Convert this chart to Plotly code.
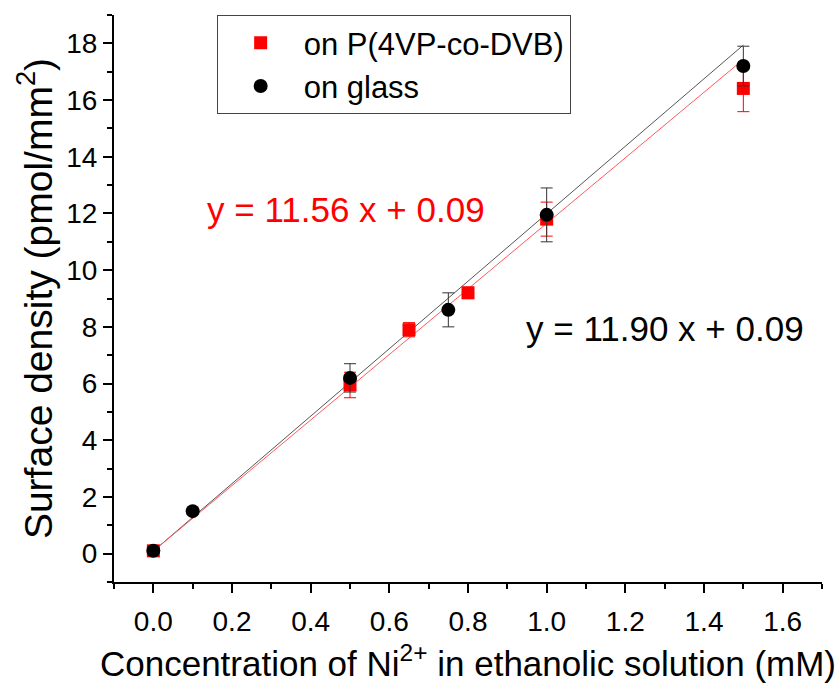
import numpy as np
import plotly.graph_objects as go

# ---- data ----
x_p4vp = [0.0, 0.5, 0.65, 0.8, 1.0, 1.5]
y_p4vp = [0.1, 5.95, 7.9, 9.2, 11.8, 16.41]
e_p4vp = [0.1, 0.45, 0.25, 0.2, 0.6, 0.82]

x_glass = [0.0, 0.1, 0.5, 0.75, 1.0, 1.5]
y_glass = [0.1, 1.5, 6.2, 8.6, 11.95, 17.2]
e_glass = [0.1, 0.1, 0.5, 0.6, 0.95, 0.7]

fit_p4vp = (11.56, 0.09)
fit_glass = (11.90, 0.09)
fit_x = [0.0, 1.5]

x_ticks = [0.0, 0.2, 0.4, 0.6, 0.8, 1.0, 1.2, 1.4, 1.6]
y_ticks = [0, 2, 4, 6, 8, 10, 12, 14, 16, 18]

FONT = "Arial, Liberation Sans, sans-serif"

fx = np.array(fit_x)
fig = go.Figure()
fig.add_trace(go.Scatter(x=fx, y=fit_glass[0] * fx + fit_glass[1], mode="lines",
                         line=dict(color="#555555", width=1), showlegend=False, hoverinfo="skip"))
fig.add_trace(go.Scatter(x=fx, y=fit_p4vp[0] * fx + fit_p4vp[1], mode="lines",
                         line=dict(color="#ff5a5a", width=1), showlegend=False, hoverinfo="skip"))
fig.add_trace(go.Scatter(x=x_p4vp, y=y_p4vp, mode="markers", name="on P(4VP-co-DVB)",
                         marker=dict(symbol="square", size=13, color="#ff0000"),
                         error_y=dict(type="data", array=e_p4vp, color="#ff0000", thickness=1, width=6)))
fig.add_trace(go.Scatter(x=x_glass, y=y_glass, mode="markers", name="on glass",
                         marker=dict(symbol="circle", size=14, color="#000000"),
                         error_y=dict(type="data", array=e_glass, color="#333333", thickness=1, width=6)))

fig.add_annotation(x=0.49, y=12.15, xref="x", yref="y", text="y = 11.56 x + 0.09",
                   showarrow=False, font=dict(family=FONT, size=35, color="#ff0000"))
fig.add_annotation(x=1.30, y=7.95, xref="x", yref="y", text="y = 11.90 x + 0.09",
                   showarrow=False, font=dict(family=FONT, size=35, color="#000000"))

axis_common = dict(showline=True, linecolor="black", linewidth=2, mirror=False,
                   ticks="outside", ticklen=9, tickwidth=2, tickcolor="black",
                   showgrid=False, zeroline=False,
                   tickfont=dict(family=FONT, size=28, color="black"))

fig.update_xaxes(range=[-0.1, 1.7], tickvals=x_ticks, ticktext=[f"{v:.1f}" for v in x_ticks],
                 ticklabelstandoff=4,
                 minor=dict(dtick=0.1, tick0=0, ticks="outside", ticklen=5, tickwidth=2, tickcolor="black"),
                 title=dict(text="Concentration of Ni<sup>2+</sup> in ethanolic solution (mM)",
                            font=dict(family=FONT, size=35, color="black"), standoff=16),
                 **axis_common)
fig.update_yaxes(range=[-1, 19], tickvals=y_ticks, ticktext=[str(v) for v in y_ticks],
                 minor=dict(dtick=1, tick0=0, ticks="outside", ticklen=5, tickwidth=2, tickcolor="black"),
                 title=dict(text="Surface density (pmol/mm<sup>2</sup>)",
                            font=dict(family=FONT, size=39, color="black"), standoff=2),
                 **axis_common)

fig.update_layout(
    width=840, height=689,
    margin=dict(l=114, r=18, t=15, b=105),
    paper_bgcolor="white", plot_bgcolor="white",
    font=dict(family=FONT, color="black"),
    legend=dict(x=0.145, y=1.0, xanchor="left", yanchor="top",
                bordercolor="#444444", borderwidth=1, bgcolor="white",
                font=dict(family=FONT, size=31, color="black"),
                itemwidth=76, tracegroupgap=0),
)

fig.write_html("out.html")
